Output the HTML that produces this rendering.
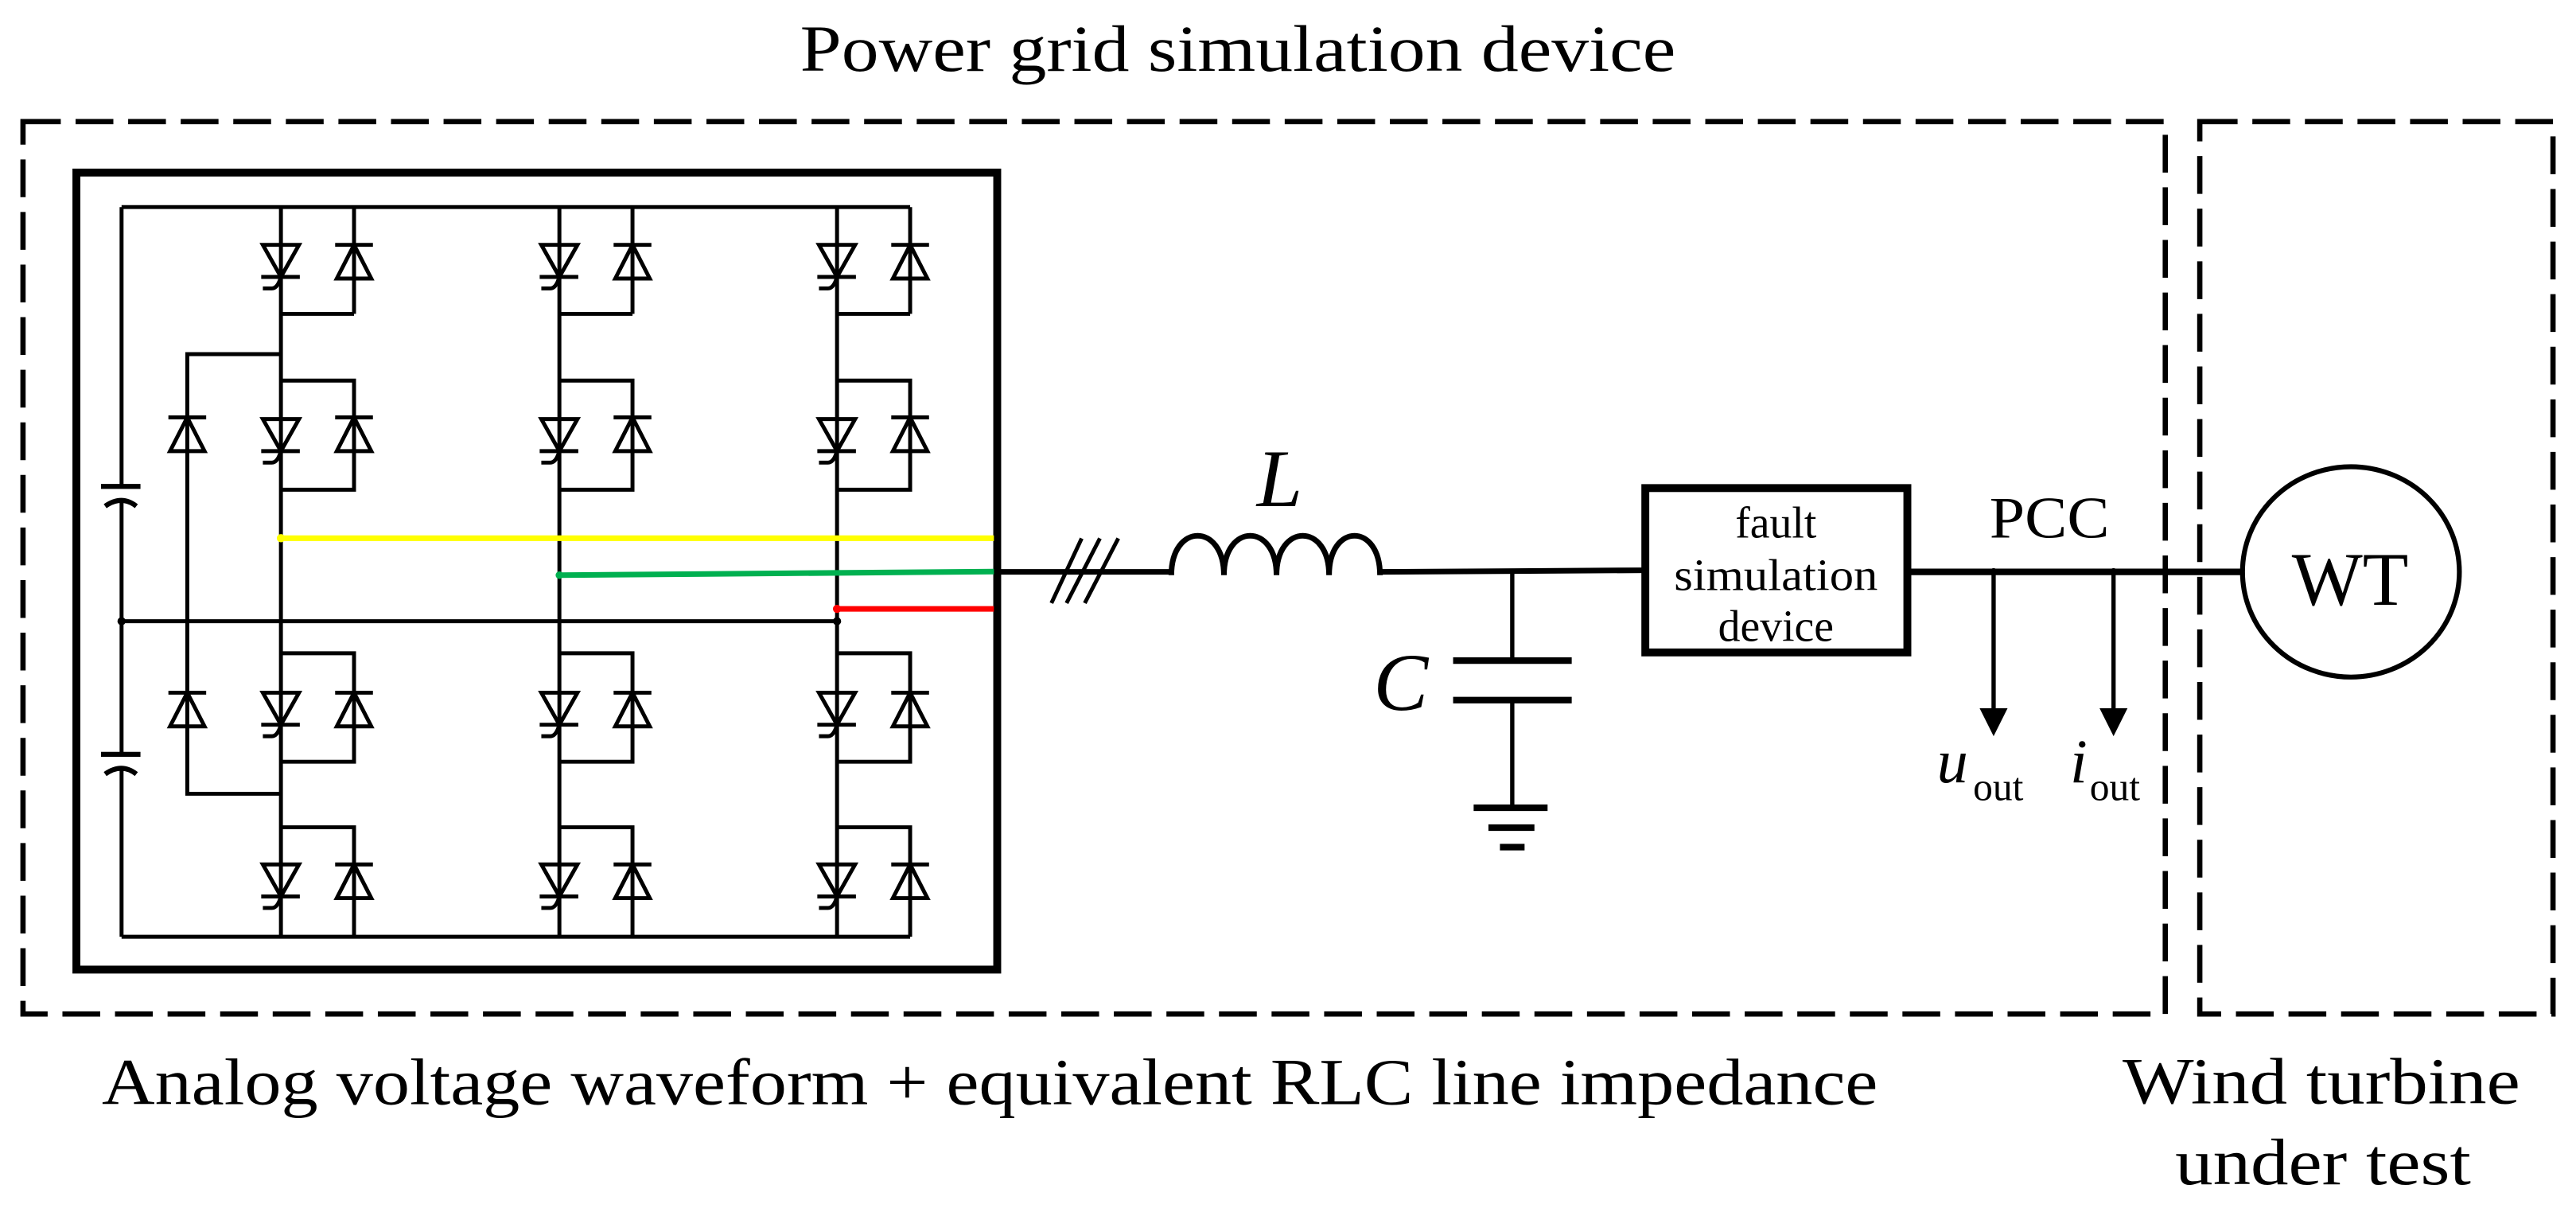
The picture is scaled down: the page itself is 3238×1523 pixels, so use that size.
<!DOCTYPE html>
<html><head><meta charset="utf-8"><style>
html,body{margin:0;padding:0;background:#fff;}
svg{display:block;}
text{font-family:"Liberation Serif",serif;fill:#000;}
</style></head><body>
<svg width="3238" height="1523" viewBox="0 0 1568 737.5" preserveAspectRatio="none" xmlns="http://www.w3.org/2000/svg">
<defs>
<g id="thy" fill="none" stroke="#000" stroke-width="2.4">
<polygon points="-11,0 11,0 0,19.5"/>
<line x1="-12" y1="19.5" x2="11.5" y2="19.5"/>
<path d="M0,19.5 Q-2,26.5 -5.5,26.5 L-11,26.5"/>
</g>
<g id="dio" fill="none" stroke="#000" stroke-width="2.4">
<line x1="-11.5" y1="0" x2="11.5" y2="0"/>
<polygon points="0,0 -10.5,20.5 10.5,20.5"/>
</g>
<g id="leg" fill="none" stroke="#000" stroke-width="2.4">
<line x1="0" y1="126" x2="0" y2="570"/>
<line x1="44.5" y1="126" x2="44.5" y2="191"/>
<polyline points="0,191 44.5,191"/>
<polyline points="0,231.6 44.5,231.6 44.5,298 0,298"/>
<polyline points="0,397.5 44.5,397.5 44.5,463.5 0,463.5"/>
<polyline points="0,503.4 44.5,503.4 44.5,570"/>
<use href="#thy" x="0" y="149"/><use href="#dio" x="44.5" y="149"/>
<use href="#thy" x="0" y="255"/><use href="#dio" x="44.5" y="254"/>
<use href="#thy" x="0" y="421.5"/><use href="#dio" x="44.5" y="421.5"/>
<use href="#thy" x="0" y="526"/><use href="#dio" x="44.5" y="526"/>
</g>
</defs>

<text x="487" y="43" font-size="40" textLength="533" lengthAdjust="spacingAndGlyphs">Power grid simulation device</text>

<!-- dashed boxes -->
<rect x="14" y="74" width="1304" height="543" fill="none" stroke="#000" stroke-width="3.2" stroke-dasharray="23 9"/>
<rect x="1339" y="74" width="215" height="543" fill="none" stroke="#000" stroke-width="3.2" stroke-dasharray="23 9"/>

<!-- inner thick box -->
<rect x="46.5" y="105" width="560.5" height="485" fill="none" stroke="#000" stroke-width="4.8"/>

<!-- circuit -->
<g fill="none" stroke="#000" stroke-width="2.4">
<line x1="74" y1="126" x2="554" y2="126"/>
<line x1="74" y1="570" x2="554" y2="570"/>
<line x1="74" y1="126" x2="74" y2="296"/>
<line x1="74" y1="305" x2="74" y2="459"/>
<line x1="74" y1="468" x2="74" y2="570"/>
<line x1="61.5" y1="296" x2="85.5" y2="296" stroke-width="3"/>
<path d="M64,308 Q74,301 83,308" stroke-width="3"/>
<line x1="61.5" y1="459" x2="85.5" y2="459" stroke-width="3"/>
<path d="M64,471 Q74,464 83,471" stroke-width="3"/>
<line x1="74" y1="378" x2="509" y2="378"/>
<polyline points="171,215.5 114,215.5 114,483 171,483"/>
<use href="#dio" x="114" y="254"/>
<use href="#dio" x="114" y="421.5"/>
</g>
<use href="#leg" x="171" y="0"/>
<use href="#leg" x="340.5" y="0"/>
<use href="#leg" x="509.5" y="0"/>
<circle cx="74" cy="378" r="2.5" fill="#000"/>
<circle cx="509.5" cy="378" r="2.5" fill="#000"/>

<!-- colored phase lines -->
<line x1="171" y1="327.5" x2="605" y2="327.5" stroke="#ffff00" stroke-width="3.4"/>
<circle cx="171" cy="327.5" r="2.5" fill="#ffff00"/>
<line x1="340.5" y1="350" x2="605" y2="347.8" stroke="#00b050" stroke-width="3.4"/>
<circle cx="340.5" cy="350" r="2.3" fill="#00b050"/>
<line x1="509.5" y1="370.5" x2="605" y2="370.5" stroke="#ff0000" stroke-width="3.4"/>
<circle cx="509.5" cy="370.5" r="2.5" fill="#ff0000"/>

<!-- main line -->
<g fill="none" stroke="#000" stroke-width="3.4">
<line x1="607" y1="348" x2="713" y2="348"/>
<path d="M713,350 C713,318 745,318 745,350 C745,318 777,318 777,350 C777,318 809,318 809,350 C809,318 840,318 840,350"/>
<line x1="840" y1="348" x2="1001" y2="347"/>
<line x1="1161" y1="348" x2="1364" y2="348" stroke-width="4"/>
</g>
<g stroke="#000" stroke-width="2.4">
<line x1="640" y1="367" x2="658.4" y2="327.6"/>
<line x1="649.2" y1="367" x2="669.5" y2="327.6"/>
<line x1="660.3" y1="367" x2="680.7" y2="327.6"/>
</g>
<text x="765" y="308" font-size="50" font-style="italic">L</text>

<!-- capacitor & ground -->
<g stroke="#000" fill="none">
<line x1="920.5" y1="347" x2="920.5" y2="402" stroke-width="2.6"/>
<line x1="884.5" y1="402" x2="956.7" y2="402" stroke-width="4"/>
<line x1="884.5" y1="426" x2="956.7" y2="426" stroke-width="4"/>
<line x1="920.5" y1="426" x2="920.5" y2="491.5" stroke-width="2.6"/>
<line x1="897" y1="491.5" x2="942" y2="491.5" stroke-width="4"/>
<line x1="906" y1="503.6" x2="934" y2="503.6" stroke-width="4"/>
<line x1="913" y1="515.5" x2="928" y2="515.5" stroke-width="4"/>
</g>
<text x="836" y="432" font-size="50" font-style="italic">C</text>

<!-- fault box -->
<rect x="1001.5" y="297" width="159.5" height="100" fill="#fff" stroke="#000" stroke-width="4.8"/>
<text x="1081" y="327" font-size="27" text-anchor="middle">fault</text>
<text x="1081" y="359" font-size="27" text-anchor="middle" textLength="124" lengthAdjust="spacingAndGlyphs">simulation</text>
<text x="1081" y="390" font-size="27" text-anchor="middle">device</text>

<!-- PCC & measurement -->
<text x="1211" y="327" font-size="36" textLength="73" lengthAdjust="spacingAndGlyphs">PCC</text>
<circle cx="1213.5" cy="348" r="2.3" fill="#000"/>
<circle cx="1286.5" cy="348" r="2.3" fill="#000"/>
<g stroke="#000" stroke-width="2.6">
<line x1="1213.5" y1="348" x2="1213.5" y2="433"/>
<line x1="1286.5" y1="348" x2="1286.5" y2="433"/>
</g>
<polygon points="1205,431 1222,431 1213.5,448" fill="#000"/>
<polygon points="1278,431 1295,431 1286.5,448" fill="#000"/>
<text x="1179" y="476" font-size="38" font-style="italic">u</text>
<text x="1201" y="487" font-size="24">out</text>
<text x="1260" y="476" font-size="38" font-style="italic">i</text>
<text x="1272" y="487" font-size="24">out</text>

<!-- WT -->
<ellipse cx="1431" cy="348" rx="66" ry="64" fill="#fff" stroke="#000" stroke-width="3"/>
<text x="1395" y="368" font-size="46" textLength="71" lengthAdjust="spacingAndGlyphs">WT</text>

<!-- bottom labels -->
<text x="62" y="672" font-size="40" textLength="1081" lengthAdjust="spacingAndGlyphs">Analog voltage waveform + equivalent RLC line impedance</text>
<text x="1292" y="671.5" font-size="40" textLength="242" lengthAdjust="spacingAndGlyphs">Wind turbine</text>
<text x="1324" y="720.5" font-size="40" textLength="180" lengthAdjust="spacingAndGlyphs">under test</text>
</svg>
</body></html>
